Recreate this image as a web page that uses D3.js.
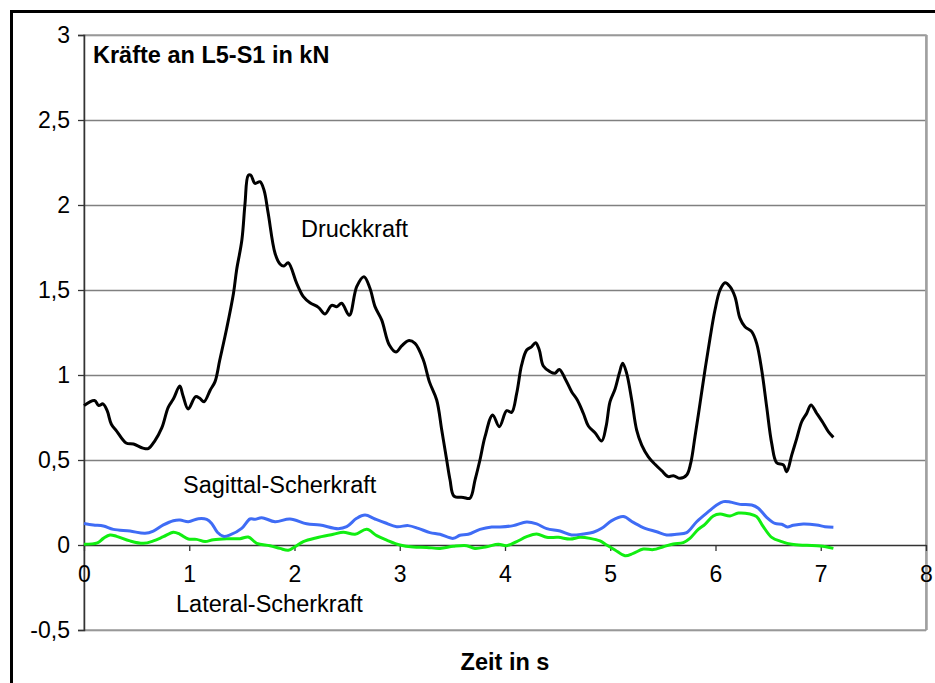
<!DOCTYPE html>
<html>
<head>
<meta charset="utf-8">
<script src="https://cdn.jsdelivr.net/npm/d3@7"></script>
<style>
  body { margin: 0; background: #fff; }
  svg { display: block; font-family: Arial, "Liberation Sans", sans-serif; }
</style>
</head>
<body>
<svg id="chart"></svg>
<script>
var width = 935, height = 683;

// Zeit in s, Kraft in kN
var druckkraft = [
  [0, 0.82], [0.1, 0.85], [0.14, 0.82], [0.18, 0.83], [0.22, 0.79], [0.26, 0.71], [0.31, 0.67],
  [0.4, 0.6], [0.47, 0.594], [0.56, 0.57], [0.61, 0.567], [0.67, 0.61], [0.74, 0.69], [0.8, 0.81],
  [0.85, 0.86], [0.91, 0.935], [0.94, 0.88], [0.99, 0.8], [1.06, 0.873], [1.1, 0.863], [1.14, 0.843],
  [1.2, 0.912], [1.245, 0.961], [1.29, 1.088], [1.356, 1.275], [1.42, 1.48], [1.45, 1.618],
  [1.5, 1.794], [1.53, 2.01], [1.56, 2.173], [1.584, 2.176], [1.625, 2.127], [1.672, 2.137],
  [1.71, 2.088], [1.75, 1.951], [1.815, 1.716], [1.862, 1.653], [1.9, 1.641], [1.94, 1.66],
  [2.021, 1.539], [2.084, 1.461], [2.147, 1.425], [2.227, 1.398], [2.29, 1.359], [2.353, 1.41],
  [2.401, 1.402], [2.448, 1.422], [2.521, 1.351], [2.591, 1.52], [2.66, 1.578], [2.717, 1.51],
  [2.765, 1.402], [2.828, 1.324], [2.901, 1.176], [2.964, 1.135], [3.018, 1.171], [3.081, 1.202],
  [3.145, 1.186], [3.224, 1.088], [3.281, 0.961], [3.351, 0.853], [3.399, 0.676], [3.446, 0.5],
  [3.478, 0.382], [3.515, 0.288], [3.604, 0.28], [3.667, 0.275], [3.715, 0.382], [3.762, 0.5],
  [3.81, 0.637], [3.883, 0.765], [3.946, 0.696], [4.016, 0.79], [4.063, 0.78], [4.111, 0.892],
  [4.158, 1.059], [4.206, 1.147], [4.254, 1.167], [4.291, 1.19], [4.326, 1.147], [4.364, 1.053],
  [4.427, 1.02], [4.475, 1.01], [4.516, 1.033], [4.57, 0.98], [4.633, 0.902], [4.687, 0.853],
  [4.744, 0.775], [4.792, 0.7], [4.855, 0.661], [4.919, 0.612], [4.96, 0.696], [4.998, 0.843],
  [5.045, 0.916], [5.086, 1.01], [5.118, 1.069], [5.156, 1.01], [5.204, 0.853], [5.251, 0.676],
  [5.299, 0.588], [5.362, 0.519], [5.425, 0.475], [5.489, 0.437], [5.552, 0.402], [5.6, 0.408],
  [5.663, 0.392], [5.726, 0.412], [5.764, 0.48], [5.805, 0.637], [5.853, 0.833], [5.9, 1.029],
  [5.948, 1.216], [5.995, 1.382], [6.043, 1.5], [6.09, 1.543], [6.138, 1.52], [6.185, 1.461],
  [6.233, 1.333], [6.28, 1.284], [6.344, 1.255], [6.391, 1.186], [6.439, 1.029], [6.486, 0.814],
  [6.534, 0.598], [6.581, 0.484], [6.645, 0.471], [6.677, 0.431], [6.724, 0.529], [6.772, 0.627],
  [6.819, 0.725], [6.867, 0.775], [6.907, 0.824], [6.961, 0.775], [7.024, 0.716], [7.072, 0.667],
  [7.12, 0.633]
];

var sagittal = [
  [0, 0.127], [0.089, 0.118], [0.184, 0.112], [0.279, 0.092], [0.437, 0.082], [0.58, 0.069],
  [0.659, 0.082], [0.754, 0.118], [0.849, 0.143], [0.912, 0.147], [0.991, 0.137], [1.086, 0.155],
  [1.166, 0.151], [1.213, 0.127], [1.267, 0.075], [1.324, 0.051], [1.387, 0.059], [1.498, 0.098],
  [1.577, 0.153], [1.625, 0.151], [1.688, 0.161], [1.815, 0.137], [1.957, 0.153], [2.116, 0.125],
  [2.242, 0.118], [2.416, 0.096], [2.496, 0.108], [2.591, 0.157], [2.67, 0.176], [2.765, 0.153],
  [2.86, 0.131], [2.971, 0.108], [3.081, 0.114], [3.176, 0.098], [3.287, 0.073], [3.382, 0.063],
  [3.509, 0.039], [3.572, 0.057], [3.651, 0.063], [3.762, 0.092], [3.874, 0.106], [3.953, 0.106],
  [4.079, 0.114], [4.206, 0.135], [4.301, 0.124], [4.396, 0.096], [4.523, 0.082], [4.633, 0.059],
  [4.744, 0.065], [4.839, 0.075], [4.919, 0.098], [5.014, 0.143], [5.124, 0.167], [5.219, 0.133],
  [5.33, 0.098], [5.441, 0.078], [5.536, 0.059], [5.631, 0.063], [5.726, 0.073], [5.821, 0.137],
  [5.932, 0.196], [6.011, 0.235], [6.075, 0.255], [6.138, 0.253], [6.233, 0.239], [6.344, 0.235],
  [6.407, 0.216], [6.486, 0.163], [6.565, 0.127], [6.629, 0.122], [6.682, 0.106], [6.739, 0.116],
  [6.834, 0.124], [6.961, 0.118], [7.04, 0.108], [7.12, 0.104]
];

var lateral = [
  [0, 0.004], [0.127, 0.012], [0.184, 0.039], [0.247, 0.059], [0.31, 0.051], [0.437, 0.024],
  [0.564, 0.01], [0.659, 0.024], [0.754, 0.049], [0.849, 0.075], [0.912, 0.063], [0.991, 0.035],
  [1.07, 0.033], [1.15, 0.02], [1.229, 0.031], [1.356, 0.037], [1.482, 0.037], [1.561, 0.047],
  [1.641, 0.01], [1.767, -0.004], [1.862, -0.02], [1.941, -0.031], [2.005, -0.01], [2.084, 0.02],
  [2.211, 0.043], [2.369, 0.063], [2.464, 0.075], [2.575, 0.063], [2.686, 0.092], [2.781, 0.055],
  [2.876, 0.029], [3.002, 0], [3.129, -0.012], [3.256, -0.014], [3.382, -0.02], [3.509, -0.008],
  [3.636, -0.004], [3.715, -0.02], [3.826, -0.01], [3.937, 0.004], [4.016, -0.004], [4.111, 0.02],
  [4.206, 0.049], [4.301, 0.065], [4.396, 0.045], [4.507, 0.045], [4.618, 0.035], [4.713, 0.045],
  [4.808, 0.039], [4.903, 0.024], [4.966, 0], [5.045, -0.029], [5.14, -0.063], [5.219, -0.049],
  [5.314, -0.024], [5.409, -0.027], [5.504, -0.01], [5.599, 0.006], [5.694, 0.014], [5.757, 0.039],
  [5.836, 0.092], [5.9, 0.122], [5.979, 0.171], [6.043, 0.182], [6.138, 0.171], [6.217, 0.188],
  [6.328, 0.182], [6.391, 0.167], [6.454, 0.108], [6.534, 0.045], [6.629, 0.02], [6.724, 0.004],
  [6.867, -0.002], [6.996, -0.006], [7.12, -0.02]
];

var xTicks = [0, 1, 2, 3, 4, 5, 6, 7, 8];
var yTicks = [-0.5, 0, 0.5, 1, 1.5, 2, 2.5, 3];

var svg = d3.select("#chart").attr("width", width).attr("height", height);

var x = d3.scaleLinear().domain([0, 8]).range([84, 926]),
    y = d3.scaleLinear().domain([-0.5, 3]).range([630, 35]);

var fmt = function(d) { return String(d).replace(".", ","); };

// outer frame (runs off the picture on right and bottom)
svg.append("rect")
    .attr("x", 11.5).attr("y", 11.5)
    .attr("width", 940).attr("height", 700)
    .attr("fill", "none")
    .attr("stroke", "#000")
    .attr("stroke-width", 3);

// gridlines
svg.append("g")
    .selectAll("line")
    .data(yTicks.filter(function(d) { return d != 0; }))
    .enter().append("line")
    .attr("x1", x(0)).attr("x2", x(8))
    .attr("y1", function(d) { return Math.round(y(d)) + 0.5; })
    .attr("y2", function(d) { return Math.round(y(d)) + 0.5; })
    .attr("stroke", "#808080")
    .attr("stroke-width", 1.3);

// plot area border
svg.append("rect")
    .attr("x", x(0)).attr("y", y(3))
    .attr("width", x(8) - x(0)).attr("height", y(-0.5) - y(3))
    .attr("fill", "none")
    .attr("stroke", "#a0a0a0")
    .attr("stroke-width", 1.5);
svg.append("line")
    .attr("x1", x(8) + 0.5).attr("x2", x(8) + 0.5)
    .attr("y1", y(3)).attr("y2", y(-0.5))
    .attr("stroke", "#a0a0a0").attr("stroke-width", 2.5);

// y axis
var yAxis = svg.append("g")
    .attr("transform", "translate(" + x(0) + ",0)")
    .call(d3.axisLeft(y).tickValues(yTicks).tickSize(6).tickPadding(8).tickFormat(fmt));
yAxis.select(".domain").attr("stroke", "#333").attr("stroke-width", 1.5);
yAxis.selectAll(".tick line").attr("stroke", "#333").attr("stroke-width", 1.3);
yAxis.selectAll("text")
    .attr("font-size", 23).attr("font-family", "Arial, 'Liberation Sans', sans-serif")
    .attr("fill", "#000");

// x axis at zero
var xAxis = svg.append("g")
    .attr("transform", "translate(0," + y(0) + ")")
    .call(d3.axisBottom(x).tickValues(xTicks).tickSize(6).tickSizeOuter(0).tickFormat(fmt));
xAxis.select(".domain").attr("stroke", "#333").attr("stroke-width", 1.5);
xAxis.selectAll(".tick line").attr("stroke", "#333").attr("stroke-width", 1.3);
xAxis.selectAll("text")
    .attr("y", 37).attr("dy", null)
    .attr("font-size", 23).attr("font-family", "Arial, 'Liberation Sans', sans-serif")
    .attr("fill", "#000");

// lines
var line = d3.line()
    .x(function(d) { return x(d[0]); })
    .y(function(d) { return y(d[1]); })
    .curve(d3.curveCatmullRom.alpha(0.5));

svg.append("path").datum(lateral)
    .attr("d", line).attr("fill", "none")
    .attr("stroke", "#11ee11").attr("stroke-width", 3).attr("stroke-linejoin", "round");
svg.append("path").datum(sagittal)
    .attr("d", line).attr("fill", "none")
    .attr("stroke", "#3f6cf5").attr("stroke-width", 3).attr("stroke-linejoin", "round");
svg.append("path").datum(druckkraft)
    .attr("d", line).attr("fill", "none")
    .attr("stroke", "#000").attr("stroke-width", 3).attr("stroke-linejoin", "round");

// texts
svg.append("text")
    .attr("x", 93).attr("y", 63)
    .attr("font-size", 23.5).attr("font-weight", "bold")
    .text("Kräfte an L5-S1 in kN");

svg.append("text")
    .attr("x", 301).attr("y", 237)
    .attr("font-size", 23.5)
    .text("Druckkraft");

svg.append("text")
    .attr("x", 183).attr("y", 493)
    .attr("font-size", 23.5)
    .text("Sagittal-Scherkraft");

svg.append("text")
    .attr("x", 176).attr("y", 612)
    .attr("font-size", 23.5)
    .text("Lateral-Scherkraft");

svg.append("text")
    .attr("x", (x(0) + x(8)) / 2).attr("y", 670)
    .attr("text-anchor", "middle")
    .attr("font-size", 23.5).attr("font-weight", "bold")
    .text("Zeit in s");
</script>
</body>
</html>
